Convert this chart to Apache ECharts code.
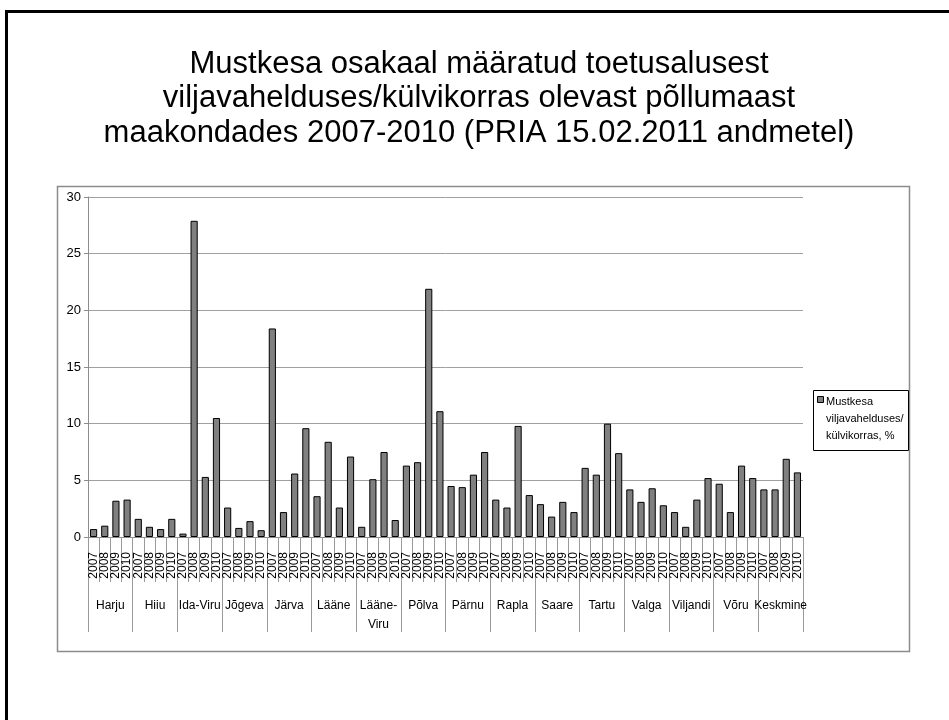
<!DOCTYPE html>
<html>
<head>
<meta charset="utf-8">
<script src="https://cdn.jsdelivr.net/npm/echarts@6/dist/echarts.min.js"></script>
<style>
html,body{margin:0;padding:0;background:#fff;}
#chart{width:949px;height:720px;}
</style>
</head>
<body>
<div id="chart"></div>
<script>
var regions = ['Harju','Hiiu','Ida-Viru','Jõgeva','Järva','Lääne','Lääne-\nViru','Põlva','Pärnu','Rapla','Saare','Tartu','Valga','Viljandi','Võru','Keskmine'];
var years = ['2007','2008','2009','2010'];
var v2007 = [0.7, 1.6, 0.3, 2.6, 18.4, 3.6, 0.9, 6.3, 4.5, 3.3, 2.9, 6.1, 4.2, 2.2, 4.7, 4.2];
var v2008 = [1.0, 0.9, 27.9, 0.8, 2.2, 8.4, 5.1, 6.6, 4.4, 2.6, 1.8, 5.5, 3.1, 0.9, 2.2, 4.2];
var v2009 = [3.2, 0.7, 5.3, 1.4, 5.6, 2.6, 7.5, 21.9, 5.5, 9.8, 3.1, 10.0, 4.3, 3.3, 6.3, 6.9];
var v2010 = [3.3, 1.6, 10.5, 0.6, 9.6, 7.1, 1.5, 11.1, 7.5, 3.7, 2.2, 7.4, 2.8, 5.2, 5.2, 5.7];
var seriesName = 'Mustkesa\nviljavahelduses/\nkülvikorras, %';
var yTicks = [0, 5, 10, 15, 20, 25, 30];
var titleText = 'Mustkesa osakaal määratud toetusalusest\nviljavahelduses/külvikorras olevast põllumaast\nmaakondades 2007-2010 (PRIA 15.02.2011 andmetel)';

var byYear = [v2007, v2008, v2009, v2010];
var yearCats = [], values = [];
for (var r = 0; r < regions.length; r++) {
  for (var y = 0; y < years.length; y++) {
    yearCats.push(years[y]);
    values.push(byYear[y][r]);
  }
}

var sans = '"Liberation Sans",Arial,sans-serif';
var chart = echarts.init(document.getElementById('chart'), null, {renderer:'canvas'});
chart.setOption({
  animation: false,
  backgroundColor: '#fff',
  title: {
    text: titleText,
    left: 474, top: 42, textAlign: 'center',
    textStyle: {fontFamily: sans, fontSize: 31, fontWeight: 'normal', color: '#000', lineHeight: 34.5}
  },
  grid: {left: 88, right: 146, top: 197, bottom: 183, containLabel: false},
  xAxis: [{
    type: 'category', data: yearCats, position: 'bottom',
    axisLine: {show: true, lineStyle: {color: '#8c8c8c', width: 1}},
    axisTick: {show: true, length: 45, lineStyle: {color: '#9a9a9a'}, interval: 0},
    axisLabel: {interval: 0, rotate: 90, fontSize: 12, fontFamily: sans, color: '#000', margin: 15}
  }, {
    type: 'category', data: regions, position: 'bottom',
    axisLine: {show: false},
    axisTick: {show: true, length: 95, lineStyle: {color: '#9a9a9a'}, interval: 0},
    axisLabel: {interval: 0, fontSize: 12, fontFamily: sans, color: '#000', margin: 59, lineHeight: 19}
  }],
  yAxis: {
    type: 'value', min: yTicks[0], max: yTicks[yTicks.length-1], interval: 5,
    axisLine: {show: true, lineStyle: {color: '#8c8c8c'}},
    axisTick: {show: true, length: 4, lineStyle: {color: '#8c8c8c'}},
    axisLabel: {fontSize: 13, fontFamily: sans, color: '#000', margin: 7},
    splitLine: {show: true, lineStyle: {color: '#a0a0a0', width: 1}}
  },
  series: [{
    name: seriesName, type: 'bar', xAxisIndex: 0, data: values, barWidth: '64%',
    itemStyle: {color: '#808080', borderColor: '#000', borderWidth: 1}
  }],
  graphic: [
    {type: 'rect', shape: {x: 6.5, y: 11.5, width: 1000, height: 1000}, style: {fill: 'none', stroke: '#000', lineWidth: 3}, silent: true},
    {type: 'rect', shape: {x: 57.5, y: 186.5, width: 852, height: 465}, style: {fill: 'none', stroke: '#8c8c8c', lineWidth: 1.5}, silent: true},
    {type: 'group', left: 813, top: 390, children: [
      {type: 'rect', shape: {x: 0.5, y: 0.5, width: 95, height: 60}, style: {fill: '#fff', stroke: '#000', lineWidth: 1}},
      {type: 'rect', shape: {x: 4.5, y: 6.5, width: 6, height: 6}, style: {fill: '#808080', stroke: '#000', lineWidth: 1}},
      {type: 'text', x: 13, y: 3, style: {text: seriesName, fontSize: 11, fontFamily: sans, fill: '#000', lineHeight: 17}}
    ]}
  ]
});
</script>
</body>
</html>
